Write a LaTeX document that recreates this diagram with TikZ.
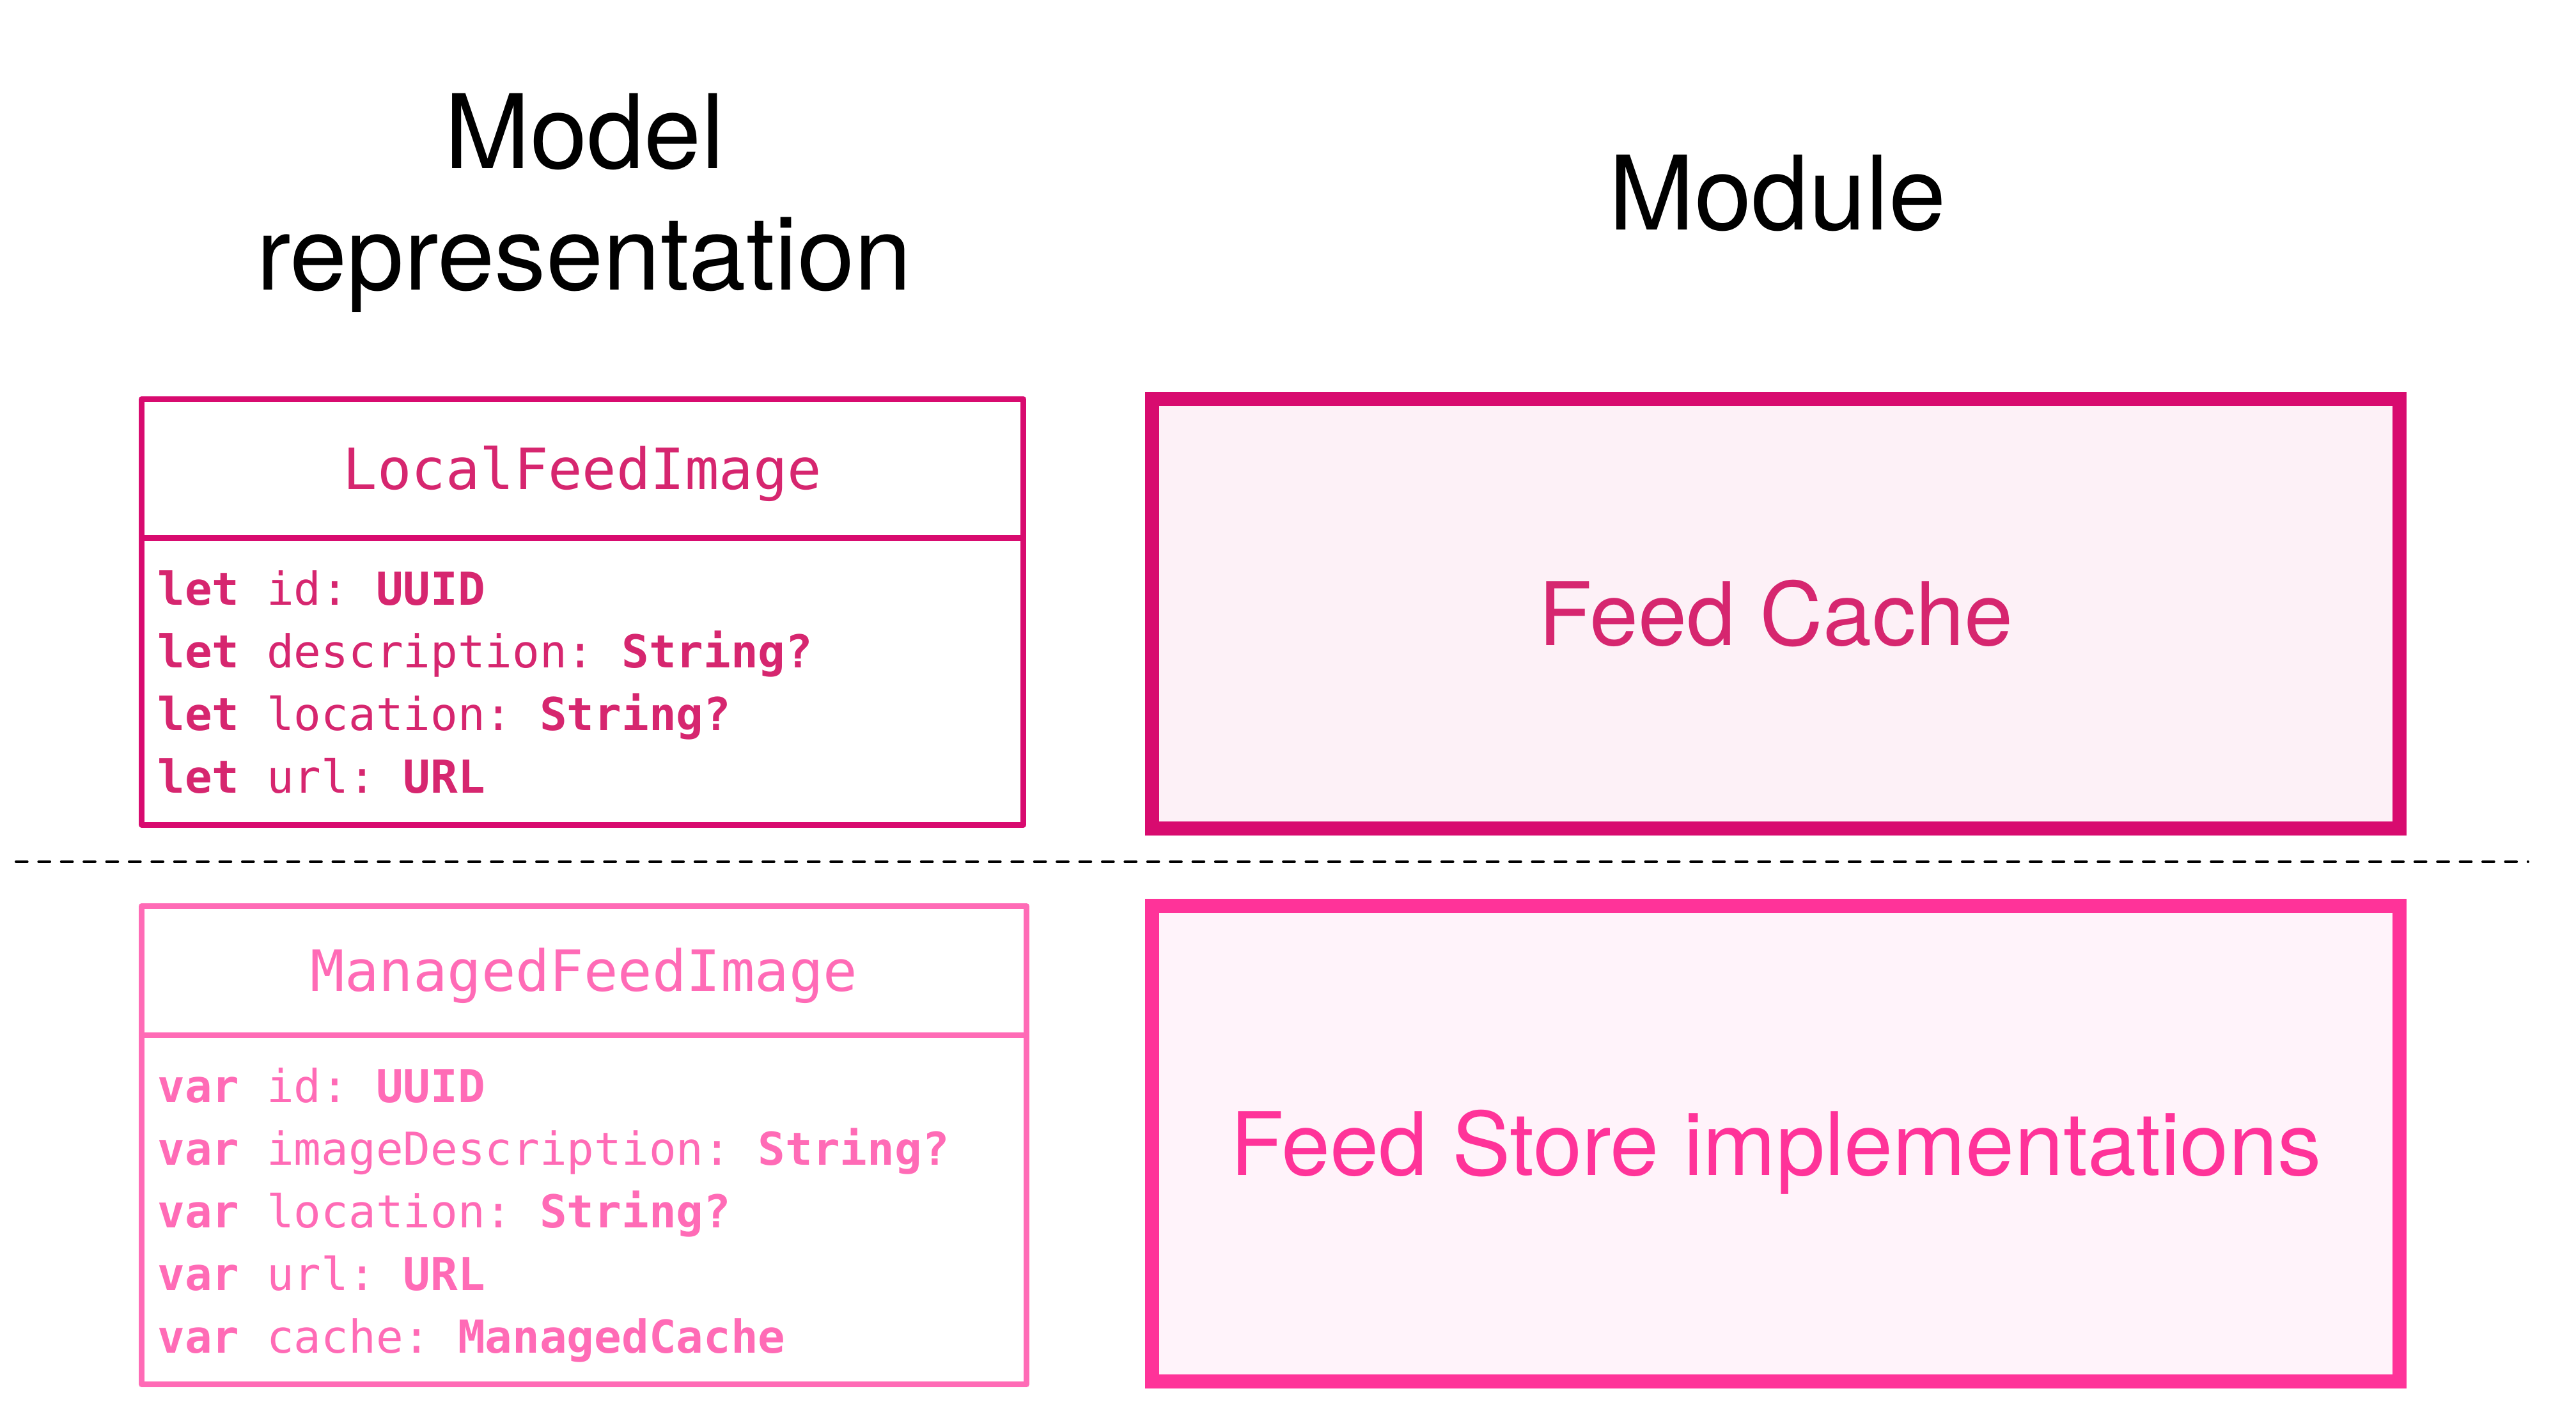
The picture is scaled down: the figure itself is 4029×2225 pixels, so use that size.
\documentclass[tikz,border=0pt]{standalone}
\usepackage{fontspec}
\setmainfont{TeX Gyre Heros}
\newfontfamily\codefont{DejaVu Sans Mono}
\usetikzlibrary{positioning}
\definecolor{cacheline}{HTML}{D80B6F}
\definecolor{cachetext}{HTML}{D6266F}
\definecolor{cachefill}{HTML}{FDF1F7}
\definecolor{managedline}{HTML}{FF6BB6}
\definecolor{storeline}{HTML}{FF3399}
\definecolor{storefill}{HTML}{FFF3FA}
\newcommand{\kw}[1]{\textbf{#1}}
\tikzstyle{title} = [anchor=base, inner sep=0pt, font=\fontsize{22.9}{27}\selectfont]
\tikzstyle{classhead} = [rectangle, draw, line width=1.28pt, line join=round, inner sep=0pt, outer sep=0pt, text height=9.2pt, text depth=0pt, font=\codefont\fontsize{12.65}{15}\selectfont]
\tikzstyle{classbody} = [rectangle, draw, line width=1.28pt, line join=round, inner sep=0pt, outer sep=0pt]
\tikzstyle{field} = [anchor=base west, inner sep=0pt, font=\codefont\fontsize{10.1}{12}\selectfont\frenchspacing]
\tikzstyle{module} = [rectangle, draw, line width=3.13pt, inner sep=0pt, minimum width=9.765cm, text height=14pt, text depth=0pt, font=\fontsize{19.5}{23}\selectfont]
\tikzstyle{divider} = [line width=0.57pt, line cap=round, dash pattern=on 2.52pt off 2.52pt, black]

\begin{document}
\begin{tikzpicture}[x=0.005cm, y=-0.005cm]
	\useasboundingbox (0,0) rectangle (4029,2225);

	% Column titles
	\node (model_title1) [title] at (914,263) {Model};
	\node (model_title2) [title] at (914,453) {representation};
	\node (module_title) [title] at (2780,359) {Module};

	% LocalFeedImage
	\node (local_head) [classhead, cacheline, text=cachetext, minimum width=6.9cm, minimum height=1.09cm] at (911,733) {LocalFeedImage};
	\node (local_body) [classbody, cacheline, minimum width=6.9cm, minimum height=2.245cm, below=0cm of local_head] {};
	\node (lf1) [field, text=cachetext] at (245,946) {\kw{let} id: \kw{UUID}};
	\node (lf2) [field, text=cachetext] at (245,1044) {\kw{let} description: \kw{String?}};
	\node (lf3) [field, text=cachetext] at (245,1142) {\kw{let} location: \kw{String?}};
	\node (lf4) [field, text=cachetext] at (245,1240) {\kw{let} url: \kw{URL}};

	% ManagedFeedImage
	\node (managed_head) [classhead, managedline, text=managedline, minimum width=6.925cm, minimum height=1.015cm] at (913.5,1518.5) {ManagedFeedImage};
	\node (managed_body) [classbody, managedline, minimum width=6.925cm, minimum height=2.73cm, below=0cm of managed_head] {};
	\node (mf1) [field, text=managedline] at (245,1724) {\kw{var} id: \kw{UUID}};
	\node (mf2) [field, text=managedline] at (245,1822) {\kw{var} imageDescription: \kw{String?}};
	\node (mf3) [field, text=managedline] at (245,1920) {\kw{var} location: \kw{String?}};
	\node (mf4) [field, text=managedline] at (245,2018) {\kw{var} url: \kw{URL}};
	\node (mf5) [field, text=managedline] at (245,2116) {\kw{var} cache: \kw{ManagedCache}};

	% Modules
	\node (feed_cache) [module, draw=cacheline, fill=cachefill, text=cachetext, minimum height=3.36cm] at (2777.5,960) {Feed Cache};
	\node (feed_store) [module, draw=storeline, fill=storefill, text=storeline, minimum height=3.72cm] at (2777.5,1789) {Feed Store implementations};

	% Boundary
	\coordinate (div_left) at (25,1348);
	\coordinate (div_right) at (3954,1348);
	\draw[divider] (div_left) -- (div_right);

\end{tikzpicture}
\end{document}
